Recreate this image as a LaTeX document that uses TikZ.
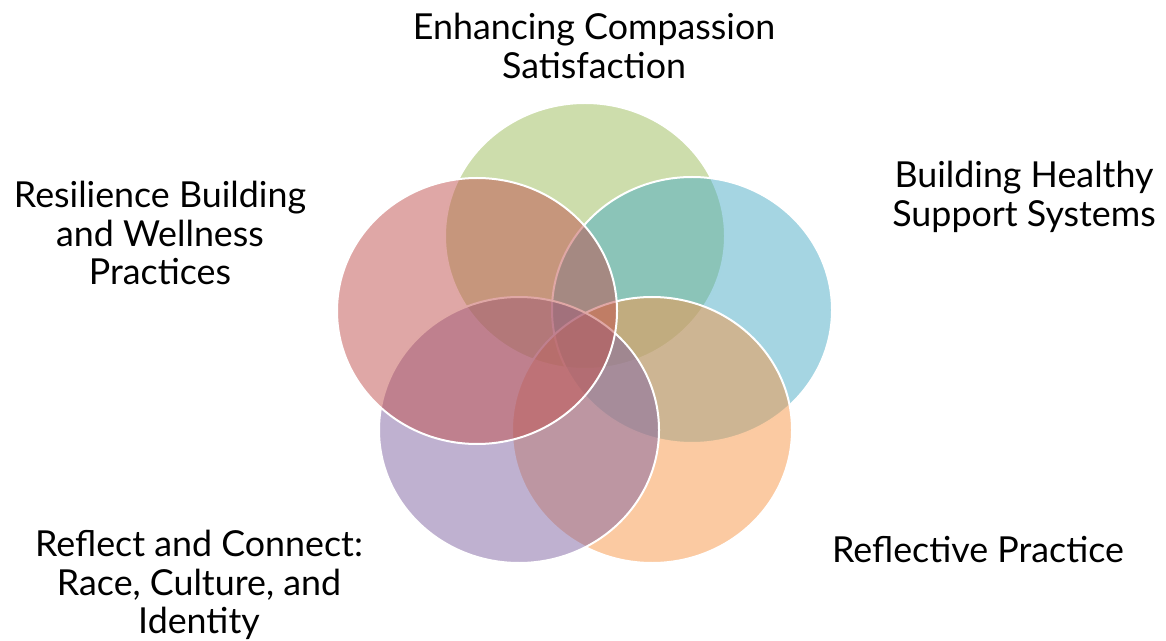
\documentclass[tikz,border=0pt]{standalone}
\usepackage{fontspec}
\setmainfont{Lato}
\usetikzlibrary{positioning}
\definecolor{vgreen}{HTML}{9BBB59}
\definecolor{vteal}{HTML}{4BACC6}
\definecolor{vorange}{HTML}{F79646}
\definecolor{vpurple}{HTML}{8064A2}
\definecolor{vred}{HTML}{C0504D}
\tikzset{lbl/.style={align=center,inner sep=0pt,font=\fontsize{17.9}{19.4}\selectfont}}
\tikzset{petal/.style={fill opacity=0.5,draw=white,draw opacity=1,line width=1pt}}

\begin{document}
\begin{tikzpicture}[x=0.5pt,y=-0.5pt]
\useasboundingbox (0,0) rectangle (1166,641);

% the five overlapping ellipses
\filldraw[petal,fill=vgreen] (585,236) ellipse [x radius=70pt, y radius=66.5pt];
\filldraw[petal,fill=vteal] (692,310) ellipse [x radius=70pt, y radius=66.5pt];
\filldraw[petal,fill=vorange] (652,430) ellipse [x radius=70pt, y radius=66.5pt];
\filldraw[petal,fill=vpurple] (519,430) ellipse [x radius=70pt, y radius=66.5pt];
\filldraw[petal,fill=vred] (477,311) ellipse [x radius=70pt, y radius=66.5pt];

% labels
\node[lbl] (comp) at (594,46) {Enhancing Compassion\\Satisfaction};
\node[lbl] (supp) at (1024,197) {Building Healthy\\Support Systems};
\node[lbl] (resi) at (160,233) {Resilience Building\\and Wellness\\Practices};
\node[lbl] (race) at (199,585) {Reflect and Connect:\\Race, Culture, and\\Identity};
\node[lbl] (refl) at (978,550) {Reflective Practice};
\end{tikzpicture}
\end{document}
